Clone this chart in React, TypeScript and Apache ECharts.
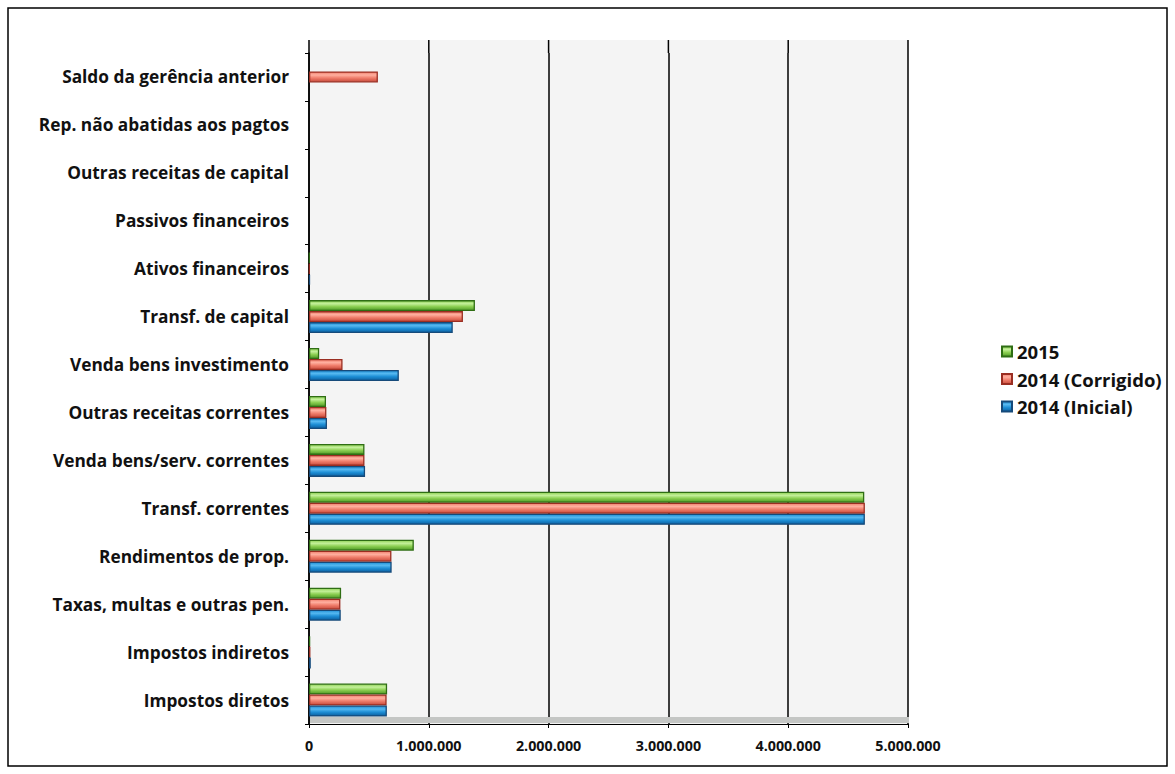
import React, { useEffect, useRef } from "react";
import * as echarts from "echarts";

const categories = [
  "Impostos diretos",
  "Impostos indiretos",
  "Taxas, multas e outras pen.",
  "Rendimentos de prop.",
  "Transf. correntes",
  "Venda bens/serv. correntes",
  "Outras receitas correntes",
  "Venda bens investimento",
  "Transf. de capital",
  "Ativos financeiros",
  "Passivos financeiros",
  "Outras receitas de capital",
  "Rep. não abatidas aos pagtos",
  "Saldo da gerência anterior",
];

const inicial2014 = [650000, 15000, 265000, 690000, 4640000, 468000, 150000, 750000, 1200000, 8000, 0, 0, 0, 0];
const corrigido2014 = [648000, 12000, 262000, 688000, 4640000, 463000, 145000, 280000, 1285000, 5000, 0, 0, 0, 575000];
const valores2015 = [652000, 10000, 268000, 875000, 4635000, 463000, 142000, 85000, 1385000, 5000, 0, 0, 0, 0];

const xTicks = [0, 1000000, 2000000, 3000000, 4000000, 5000000];

const fmt = (v: number) => String(v).replace(/\B(?=(\d{3})+(?!\d))/g, ".");

const FONT = "'Open Sans', Lato, sans-serif";

function grad(dark: string, light: string, mid: string) {
  return new echarts.graphic.LinearGradient(0, 0, 0, 1, [
    { offset: 0, color: mid },
    { offset: 0.3, color: light },
    { offset: 0.6, color: mid },
    { offset: 1, color: dark },
  ]);
}

export default function App() {
  const ref = useRef<HTMLDivElement>(null);
  useEffect(() => {
    if (!ref.current) return;
    const chart = echarts.init(ref.current, undefined, { renderer: "svg" });
    const mkSeries = (name: string, data: number[], fill: any, border: string) => ({
      name,
      type: "bar",
      data: data.map((v) => (v === 0 ? null : v)),
      barWidth: 11,
      barGap: "0%",
      itemStyle: { color: fill, borderColor: border, borderWidth: 1.3 },
    });
    chart.setOption({
      animation: false,
      backgroundColor: "#ffffff",
      grid: {
        left: 309,
        right: 267,
        top: 53,
        bottom: 50,
        show: true,
        backgroundColor: "#f4f4f4",
        borderWidth: 0,
      },
      legend: {
        orient: "vertical",
        left: 996,
        top: 337,
        itemWidth: 10,
        itemHeight: 10,
        itemGap: 8.5,
        data: ["2015", "2014 (Corrigido)", "2014 (Inicial)"],
        textStyle: { fontFamily: FONT, fontWeight: "bold", fontSize: 18.5, color: "#111" },
        icon: "rect",
      },
      xAxis: {
        type: "value",
        min: 0,
        max: 5000000,
        interval: 1000000,
        axisLine: { show: true, lineStyle: { color: "#000", width: 1 } },
        axisTick: { show: true, length: 4, lineStyle: { color: "#000" } },
        splitLine: { show: true, lineStyle: { color: "#000", width: 1.5 } },
        axisLabel: {
          margin: 14,
          fontFamily: FONT,
          fontWeight: "bold",
          fontSize: 14.3,
          color: "#111",
          formatter: (v: number) => (xTicks.includes(v) ? fmt(v) : ""),
        },
      },
      yAxis: {
        type: "category",
        data: categories,
        axisLine: { show: true, lineStyle: { color: "#000", width: 1.5 } },
        axisTick: { show: true, length: 4, lineStyle: { color: "#000" } },
        axisLabel: {
          margin: 20,
          fontFamily: FONT,
          fontWeight: "bold",
          fontSize: 17.3,
          color: "#111",
        },
      },
      series: [
        mkSeries("2015", valores2015, grad("#4f9a26", "#c4f09a", "#8ccf52"), "#2f6e14"),
        mkSeries("2014 (Corrigido)", corrigido2014, grad("#c84b3c", "#ffb0a0", "#f07e6c"), "#9a2e22"),
        mkSeries("2014 (Inicial)", inicial2014, grad("#0b5fa0", "#56b8f0", "#1e8fd6"), "#164a7a"),
      ],
    });

    // decorations derived from the chart's own scales
    const x0 = chart.convertToPixel({ xAxisIndex: 0 }, 0) as number;
    const x5 = chart.convertToPixel({ xAxisIndex: 0 }, 5000000) as number;
    const yTop = chart.convertToPixel({ yAxisIndex: 0 }, categories[categories.length - 1]) as number;
    const yBot = chart.convertToPixel({ yAxisIndex: 0 }, categories[0]) as number;
    const band = (yBot - yTop) / (categories.length - 1);
    const gridTop = yTop - band / 2;
    const gridBot = yBot + band / 2;
    const extTop = gridTop - 13;
    const graphics: any[] = [
      {
        type: "rect",
        shape: { x: 8, y: 8, width: 1159, height: 758 },
        style: { fill: "none", stroke: "#000", lineWidth: 1.5 },
        silent: true,
        z: 100,
      },
      {
        type: "rect",
        shape: { x: x0, y: extTop, width: x5 - x0, height: gridTop - extTop },
        style: { fill: "#f4f4f4" },
        silent: true,
        z: -1,
      },
      {
        type: "rect",
        shape: { x: x0 + 1, y: gridBot - 7, width: x5 - x0, height: 6 },
        style: { fill: "#c4c6c4" },
        silent: true,
        z: 1,
      },
    ];
    xTicks.forEach((v) => {
      const px = chart.convertToPixel({ xAxisIndex: 0 }, v) as number;
      graphics.push({
        type: "line",
        shape: { x1: px, y1: extTop, x2: px, y2: gridTop },
        style: { stroke: "#000", lineWidth: 1.5 },
        silent: true,
        z: 5,
      });
    });
    chart.setOption({ graphic: graphics });
    return () => chart.dispose();
  }, []);
  return (
    <div
      ref={ref}
      style={{ position: "fixed", left: 0, top: 0, width: 1175, height: 774 }}
    />
  );
}
